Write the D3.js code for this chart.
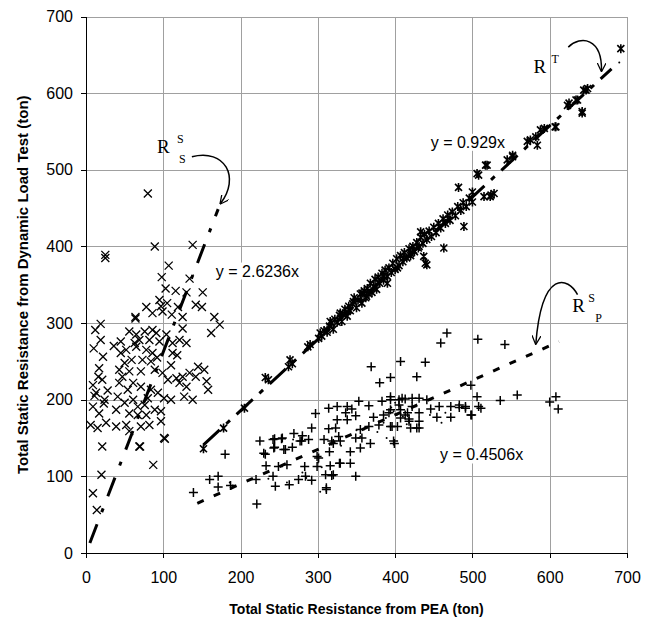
<html>
<head>
<meta charset="utf-8">
<title>PEA vs dynamic load test</title>
<script src="https://cdn.jsdelivr.net/npm/d3@7"></script>
<style type="text/css">
body { margin:0; background:#fff; }
text { font-family: "Liberation Sans", Arial, sans-serif; }
.grid line { stroke:#a0a0a0; stroke-width:1; shape-rendering:crispEdges; }
.axis path, .axis line { stroke:#000; shape-rendering:crispEdges; }
.axis text { font-size:16px; fill:#000; }
.title { font-weight:bold; }
.mk { fill:none; stroke:#000; }
.trend { fill:none; stroke:#000; stroke-width:3; }
.eq { font-size:16px; }
.ann { font-family: "Liberation Serif", "Times New Roman", serif; }
.arrow { fill:none; stroke:#000; stroke-width:1.5; }
</style>
</head>
<body>
<script>
// R_S^S : shaft resistance, x markers
var ssData = [
	[80,469],[89,400],[138,402],[25,385],[25,389],[107,375],[98,360],[134,358],[103,345],[116,342],
	[130,340],[151,340],[142,324],[150,321],[166,308],[78,321],[95,330],[97,322],[105,326],[119,321],
	[64,308],[86,313],[99,315],[111,311],[125,308],[64,306],[173,298],[162,287],[19,299],[12,291],
	[19,278],[10,267],[22,256],[17,241],[16,230],[9,219],[21,226],[13,209],[24,200],[9,191],
	[17,182],[6,167],[15,163],[26,170],[21,139],[20,102],[9,78],[14,56],[87,115],[70,139],
	[102,149],[56,289],[45,276],[65,285],[76,289],[86,291],[63,274],[69,278],[82,278],[91,287],
	[95,276],[104,285],[112,274],[121,278],[130,274],[125,293],[112,261],[45,261],[52,265],[65,269],
	[78,265],[86,261],[73,252],[84,250],[50,248],[43,239],[56,237],[71,237],[89,239],[99,235],
	[110,245],[117,228],[106,226],[125,230],[134,235],[145,243],[153,239],[142,230],[156,224],[158,213],
	[130,217],[138,200],[127,204],[121,222],[110,200],[101,202],[93,209],[84,213],[80,202],[71,217],
	[61,222],[54,213],[43,222],[41,204],[50,196],[61,200],[67,191],[76,193],[89,187],[97,185],
	[78,180],[67,180],[56,182],[39,187],[39,165],[52,167],[56,159],[82,167],[97,172],[71,165],
	[101,150],[69,139],[23,195],[11,205],[28,212],[36,270],[47,230],[59,252],[92,255],[118,258]
];

// R^T : total resistance, star markers
var rtData = [
	[152,136],[178,163],[205,189],[236,226],[232,229],[262,243],[264,252],[267,247],[287,269],[290,272],
	[301,280],[303,287],[305,283],[308,290],[312,288],[312,291],[315,296],[316,302],[318,300],[320,292],
	[322,305],[325,301],[328,310],[329,313],[331,302],[332,312],[335,318],[338,309],[340,317],[340,322],
	[342,316],[345,325],[346,328],[347,333],[350,320],[352,330],[355,338],[357,339],[357,326],[360,342],
	[362,333],[363,335],[364,345],[366,338],[368,352],[370,340],[372,348],[374,357],[376,344],[378,360],
	[380,352],[383,365],[385,361],[385,356],[387,369],[390,352],[390,361],[392,372],[395,366],[397,378],
	[400,370],[402,384],[403,372],[405,375],[407,388],[410,380],[411,385],[412,392],[415,385],[418,397],
	[420,391],[420,388],[423,400],[424,395],[425,393],[428,405],[430,398],[431,400],[433,419],[433,412],
	[436,404],[437,387],[438,416],[439,378],[441,409],[441,376],[444,420],[447,413],[450,425],[453,418],
	[456,430],[459,424],[462,436],[463,398],[465,430],[468,441],[471,434],[474,445],[478,440],[481,452],
	[482,477],[485,447],[488,457],[489,426],[492,452],[496,463],[500,471],[500,458],[506,495],[508,493],
	[515,465],[517,506],[519,506],[523,465],[524,467],[528,469],[545,513],[552,517],[552,519],[571,537],
	[575,539],[582,543],[584,532],[588,552],[593,554],[607,556],[608,556],[623,584],[625,587],[634,591],
	[636,591],[642,576],[642,574],[644,604],[647,604],[649,606],[692,658]
];

// R_P^S : point resistance, plus markers
var psData = [
	[139,79],[160,96],[171,100],[171,86],[187,88],[180,129],[221,64],[220,96],[225,146],[232,129],
	[233,114],[244,149],[253,149],[244,138],[258,135],[249,113],[245,87],[263,89],[242,100],[269,156],
	[267,138],[279,146],[292,163],[297,182],[283,113],[284,100],[275,96],[299,113],[299,126],[311,85],
	[310,102],[316,114],[329,117],[320,102],[315,132],[325,191],[314,189],[338,191],[323,163],[327,152],
	[338,174],[318,146],[242,148],[254,150],[280,153],[243,137],[256,135],[277,146],[288,148],[230,130],
	[260,115],[292,95],[301,124],[328,117],[318,101],[311,83],[349,100],[308,148],[314,162],[320,143],
	[325,174],[329,146],[342,132],[336,183],[344,188],[353,198],[349,179],[355,161],[349,150],[357,150],
	[355,137],[342,117],[368,143],[366,165],[366,192],[372,177],[379,167],[385,180],[383,198],[394,204],
	[392,183],[398,146],[396,165],[405,193],[407,176],[409,202],[416,183],[420,163],[422,191],[498,180],
	[508,191],[506,204],[491,191],[483,193],[472,191],[472,177],[454,177],[457,191],[536,199],[558,206],
	[399,143],[498,219],[428,163],[403,165],[394,165],[418,175],[446,188],[441,200],[431,202],[422,202],
	[413,201],[405,200],[394,200],[394,187],[407,187],[413,180],[431,183],[431,172],[418,172],[431,163],
	[467,287],[459,274],[507,279],[542,272],[369,243],[380,222],[394,229],[407,250],[428,230],[439,249],
	[511,189],[499,180],[600,197],[608,204],[611,188],[483,190],[491,189]
];

// small dot markers scattered among the points
var dotData = [
	[395,190],[398,185],[400,196],[402,180],[405,192],[410,178],[385,170],[388,176],[350,160],[355,152],
	[330,140],[300,118],[305,112],[280,105],[285,98],[260,92],[190,88],[186,92],[303,80],[460,170],
	[465,183],[377,158],[389,150],[415,168],[445,180],[690,640],[268,148],[236,97]
];

// trendlines (through origin): slope, x from, x to
var trendLines = [
	{ name:'ss', slope:2.6236, x0:5,   x1:171, dash:'20,13,4,13' },
	{ name:'t',  slope:0.929,  x0:152, x1:680, dash:'22,9,5,9' },
	{ name:'ps', slope:0.4506, x0:144, x1:612, dash:'7,11' }
];
var eqLabels = [
	{ text:'y = 2.6236x', x:168, y:368 },
	{ text:'y = 0.929x',  x:446, y:536 },
	{ text:'y = 0.4506x', x:458, y:128 }
];

var xTicks = d3.range(0, 701, 100),
	yTicks = d3.range(0, 701, 100);

var W = 653, H = 623,
	margin = { left:86, right:26, top:16.5, bottom:70 };

var svg = d3.select('body').append('svg').attr('width', W).attr('height', H),
	x = d3.scaleLinear().domain([0,700]).range([margin.left, W - margin.right]),
	y = d3.scaleLinear().domain([0,700]).range([H - margin.bottom, margin.top]);

// grid
var grid = svg.append('g').attr('class','grid');
grid.selectAll('.gx').data(xTicks.slice(1)).enter().append('line')
	.attr('x1', function(d){ return Math.round(x(d)) + 0.5; })
	.attr('x2', function(d){ return Math.round(x(d)) + 0.5; })
	.attr('y1', y(0)).attr('y2', y(700));
grid.selectAll('.gy').data(yTicks.slice(1)).enter().append('line')
	.attr('y1', function(d){ return Math.round(y(d)) + 0.5; })
	.attr('y2', function(d){ return Math.round(y(d)) + 0.5; })
	.attr('x1', x(0)).attr('x2', x(700));

// axes
svg.append('g').attr('class','axis')
	.attr('transform','translate(0,' + y(0) + ')')
	.call(d3.axisBottom(x).tickValues(xTicks).tickSize(5).tickSizeOuter(0).tickPadding(14))
	.call(function(g){ g.select('.domain').attr('stroke-width',1.5); });
svg.append('g').attr('class','axis')
	.attr('transform','translate(' + x(0) + ',0)')
	.call(d3.axisLeft(y).tickValues(yTicks).tickSize(5).tickSizeOuter(0).tickPadding(8))
	.call(function(g){ g.select('.domain').attr('stroke-width',1.5); });

// titles
svg.append('text').attr('class','title')
	.attr('font-size', 14)
	.attr('x', (x(0) + x(700)) / 2).attr('y', 614)
	.attr('text-anchor','middle')
	.text('Total Static Resistance from PEA (ton)');
svg.append('text').attr('class','title')
	.attr('font-size', 15)
	.attr('transform','translate(28,' + (y(0) + y(700)) / 2 + ') rotate(-90)')
	.attr('text-anchor','middle')
	.text('Total Static Resistance from Dynamic Load Test (ton)');

// markers
var plot = svg.append('g');
var crossPath = 'M-4,-4L4,4M-4,4L4,-4',
	starPath = 'M-3.5,-3.5L3.5,3.5M-3.5,3.5L3.5,-3.5M0,-4.5L0,4.5',
	plusPath = 'M-4.5,0L4.5,0M0,-4.5L0,4.5';

function markers(data, d, sw){
	plot.append('g').selectAll('path').data(data).enter().append('path')
		.attr('class','mk')
		.attr('stroke-width', sw)
		.attr('d', d)
		.attr('transform', function(p){ return 'translate(' + x(p[0]) + ',' + y(p[1]) + ')'; });
}
markers(ssData, crossPath, 1.3);
markers(rtData, starPath, 1.6);
markers(psData, plusPath, 1.5);

plot.append('g').selectAll('circle').data(dotData).enter().append('circle')
	.attr('cx', function(p){ return x(p[0]); })
	.attr('cy', function(p){ return y(p[1]); })
	.attr('r', 1).attr('fill','#000');

// trendlines
var line = d3.line().x(function(p){ return x(p[0]); }).y(function(p){ return y(p[1]); });
svg.append('g').selectAll('path').data(trendLines).enter().append('path')
	.attr('class','trend')
	.attr('stroke-dasharray', function(t){ return t.dash; })
	.attr('d', function(t){ return line([[t.x0, t.slope * t.x0], [t.x1, t.slope * t.x1]]); });

// equation labels on white boxes
var eq = svg.append('g').selectAll('g').data(eqLabels).enter().append('g');
eq.append('text').attr('class','eq')
	.attr('x', function(e){ return x(e.x); })
	.attr('y', function(e){ return y(e.y); })
	.attr('dy','0.35em')
	.text(function(e){ return e.text; });
eq.each(function(){
	var g = d3.select(this), b = g.select('text').node().getBBox();
	g.insert('rect','text').attr('x', b.x - 2).attr('y', b.y).attr('width', b.width + 4).attr('height', b.height).attr('fill','#fff');
});

// annotations: R labels with curved arrows
svg.append('defs').append('marker')
	.attr('id','head').attr('viewBox','0 0 10 10')
	.attr('refX',9).attr('refY',5)
	.attr('markerWidth',9).attr('markerHeight',9)
	.attr('markerUnits','userSpaceOnUse')
	.attr('orient','auto')
	.append('path').attr('d','M0,0L10,5L0,10').attr('fill','none').attr('stroke','#000').attr('stroke-width',1.4);

var annotations = [
	{ at:[92,522], sup:'S', sub:'S', supDx:20, subDx:22,
	  arrow:[[137,517],[180,528],[200,490],[174,456]] },
	{ at:[579,626], sup:'T', sub:'', supDx:18, subDx:0,
	  arrow:[[624,660],[640,676],[668,672],[667,629]] },
	{ at:[629,315], sup:'S', sub:'P', supDx:16, subDx:23,
	  arrow:[[636,337],[624,360],[590,372],[582,273]] }
];
var ann = svg.append('g').selectAll('g').data(annotations).enter().append('g')
	.attr('transform', function(a){ return 'translate(' + x(a.at[0]) + ',' + y(a.at[1]) + ')'; });
ann.append('text').attr('class','ann').attr('font-size',19).text('R');
ann.append('text').attr('class','ann').attr('font-size',12)
	.attr('x', function(a){ return a.supDx; }).attr('y',-10)
	.text(function(a){ return a.sup; });
ann.append('text').attr('class','ann').attr('font-size',12)
	.attr('x', function(a){ return a.subDx; }).attr('y',10)
	.text(function(a){ return a.sub; });
svg.append('g').selectAll('path').data(annotations).enter().append('path')
	.attr('class','arrow')
	.attr('marker-end','url(#head)')
	.attr('d', function(a){
		var p = a.arrow.map(function(q){ return [x(q[0]), y(q[1])]; });
		return 'M' + p[0] + 'C' + p[1] + ' ' + p[2] + ' ' + p[3];
	});
</script>
</body>
</html>
